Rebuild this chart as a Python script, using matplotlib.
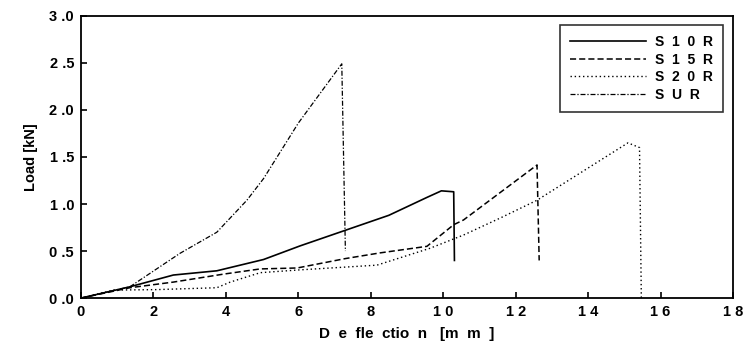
import matplotlib.pyplot as plt

plt.rcParams['font.family'] = 'Liberation Sans'
plt.rcParams['font.weight'] = 'bold'
plt.rcParams['axes.labelweight'] = 'bold'

# S10R - solid
s10r_x = [0, 1.35, 2.55, 3.75, 5.04, 6.05, 8.5, 9.55, 9.95, 10.29, 10.31]
s10r_y = [0, 0.12, 0.245, 0.29, 0.41, 0.555, 0.88, 1.07, 1.14, 1.13, 0.40]

# S15R - dashed
s15r_x = [0, 1.35, 2.55, 3.94, 4.95, 5.97, 7.3, 8.25, 9.55, 10.29, 10.56, 12.59, 12.65]
s15r_y = [0, 0.11, 0.17, 0.255, 0.31, 0.32, 0.42, 0.48, 0.55, 0.78, 0.83, 1.415, 0.40]

# S20R - dotted
s20r_x = [0, 0.89, 2.09, 3.75, 4.12, 4.95, 6.05, 8.17, 9.64, 10.56, 11.57, 12.59, 15.1, 15.42, 15.47]
s20r_y = [0, 0.085, 0.09, 0.11, 0.17, 0.27, 0.30, 0.35, 0.53, 0.67, 0.85, 1.04, 1.65, 1.60, 0.0]

# SUR - dash-dot
sur_x = [0, 1.35, 2.73, 3.75, 4.58, 5.04, 6.0, 7.2, 7.3]
sur_y = [0, 0.12, 0.475, 0.70, 1.04, 1.27, 1.86, 2.49, 0.50]

labels = ['S  1  0  R', 'S  1  5  R', 'S  2  0  R', 'S  U  R']
x_ticks = [0, 2, 4, 6, 8, 10, 12, 14, 16, 18]
x_ticklabels = ['0', '2', '4', '6', '8', '1 0', '1 2', '1 4', '1 6', '1 8']
y_ticks = [0.0, 0.5, 1.0, 1.5, 2.0, 2.5, 3.0]
y_ticklabels = ['0 .0', '0 .5', '1 .0', '1 .5', '2 .0', '2 .5', '3 .0']

fig = plt.figure(figsize=(7.43, 3.45), dpi=100)
ax = fig.add_axes([0.109, 0.136, 0.8775, 0.818])

ax.plot(s10r_x, s10r_y, color='black', lw=1.2, linestyle='-', label=labels[0])
ax.plot(s15r_x, s15r_y, color='black', lw=1.1, linestyle=(0, (4, 2)), label=labels[1])
ax.plot(s20r_x, s20r_y, color='black', lw=1.0, linestyle=(0, (1, 2)), label=labels[2])
ax.plot(sur_x, sur_y, color='black', lw=0.9, linestyle=(0, (4, 1.5, 1, 1.5)), label=labels[3])

ax.set_xlim(0, 18)
ax.set_ylim(0, 3.0)
ax.set_xticks(x_ticks)
ax.set_xticklabels(x_ticklabels, fontweight='bold')
ax.set_yticks(y_ticks)
ax.set_yticklabels(y_ticklabels, fontweight='bold')
ax.tick_params(direction='in', length=4, width=1.2, labelsize=10.5, pad=5)
for sp in ax.spines.values():
    sp.set_linewidth(1.3)

ax.set_xlabel('D  e  fle  ctio  n   [m  m  ]', fontsize=11, fontweight='bold', labelpad=6)
ax.set_ylabel('Load [kN]', fontsize=10.5, fontweight='bold', labelpad=8)

leg = ax.legend(loc='upper right', bbox_to_anchor=(0.985, 0.968),
                prop={'size': 10, 'weight': 'bold'},
                frameon=True, fancybox=False, handlelength=5.5,
                labelspacing=0.25, borderpad=0.75, handletextpad=0.6,
                borderaxespad=0)
leg.get_frame().set_edgecolor('black')
leg.get_frame().set_linewidth(1.2)

fig.savefig('out.png', dpi=100)
